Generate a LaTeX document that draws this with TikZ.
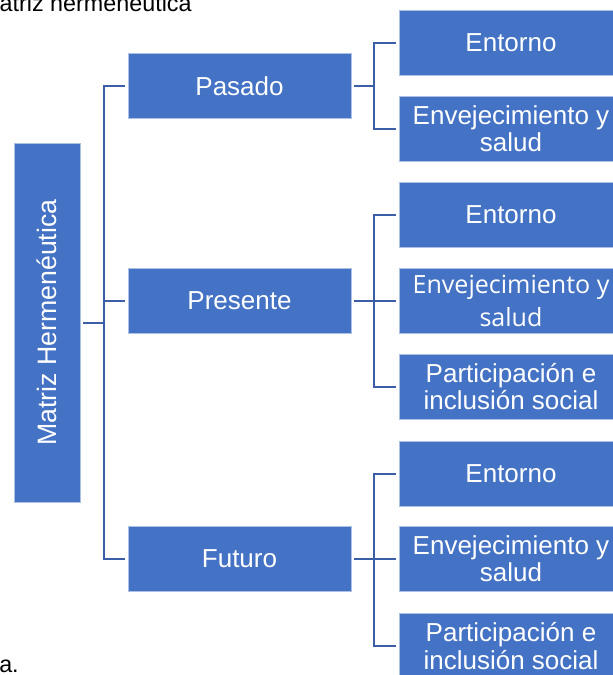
\documentclass[tikz,border=0pt]{standalone}
\usepackage{fontspec}
\setmainfont{Liberation Sans}
\newfontfamily\altfont{Open Sans}
\definecolor{boxblue}{HTML}{4472C4}
\definecolor{lineblue}{HTML}{3B5EA6}
\tikzset{
  box/.style={fill=boxblue, draw=white!55!boxblue, line width=0.5pt, text=white,
    align=center, minimum width=168pt, minimum height=49pt, inner sep=0pt,
    font=\fontsize{19.5}{20.5}\selectfont},
  conn/.style={lineblue, line width=1.5pt},
}
\begin{document}
\begin{tikzpicture}[x=0.75pt, y=-0.75pt]
  \useasboundingbox (0,0) rectangle (613,675);
  \clip (0,0) rectangle (613,675);

  % remains of the caption
  \node [anchor=base west, inner sep=0pt, font=\fontsize{17.5}{20}\selectfont] at (-20,11) (title) {Matriz hermenéutica};
  \node [anchor=base west, inner sep=0pt, font=\fontsize{17.5}{20}\selectfont] at (-1,672) (source) {a.};

  % root
  \node [box, minimum width=269pt, minimum height=49.5pt, rotate=90, font=\fontsize{20}{22}\selectfont] at (47,322.5) (root) {Matriz Hermenéutica};

  % second level
  \node [box, minimum width=167pt] at (239.5,86) (pasado) {Pasado};
  \node [box, minimum width=167pt] at (239.5,301) (presente) {Presente};
  \node [box, minimum width=167pt] at (239.5,559) (futuro) {Futuro};

  % leaves
  \node [box] at (511,42.5) (entA) {Entorno};
  \node [box] at (511,129) (envA) {Envejecimiento y\\salud};
  \node [box] at (511,215) (entB) {Entorno};
  \node [box, font=\altfont\fontsize{18.8}{25}\selectfont] at (511,301) (envB) {Envejecimiento y\\salud};
  \node [box] at (511,386.5) (parB) {Participación e\\inclusión social};
  \node [box] at (511,473.5) (entC) {Entorno};
  \node [box] at (511,559) (envC) {Envejecimiento y\\salud};
  \node [box] at (511,646) (parC) {Participación e\\inclusión social};

  % connectors
  \coordinate (hub) at (104,322.5);
  \coordinate (hubA) at (374,86);
  \coordinate (hubB) at (374,301);
  \coordinate (hubC) at (374,559);

  \draw [conn, shorten <=2pt] (root.south) -- (hub);
  \draw [conn, shorten <=2pt, shorten >=2pt] (pasado.west) -| (hub) |- (futuro.west);
  \draw [conn, shorten >=2pt] (hub |- presente.west) -- (presente.west);

  \draw [conn, shorten <=2pt] (pasado.east) -- (hubA);
  \draw [conn, shorten <=2pt, shorten >=2pt] (entA.west) -| (hubA) |- (envA.west);

  \draw [conn, shorten <=2pt, shorten >=2pt] (presente.east) -- (envB.west);
  \draw [conn, shorten <=2pt, shorten >=2pt] (entB.west) -| (hubB) |- (parB.west);

  \draw [conn, shorten <=2pt, shorten >=2pt] (futuro.east) -- (envC.west);
  \draw [conn, shorten <=2pt, shorten >=2pt] (entC.west) -| (hubC) |- (parC.west);
\end{tikzpicture}
\end{document}
